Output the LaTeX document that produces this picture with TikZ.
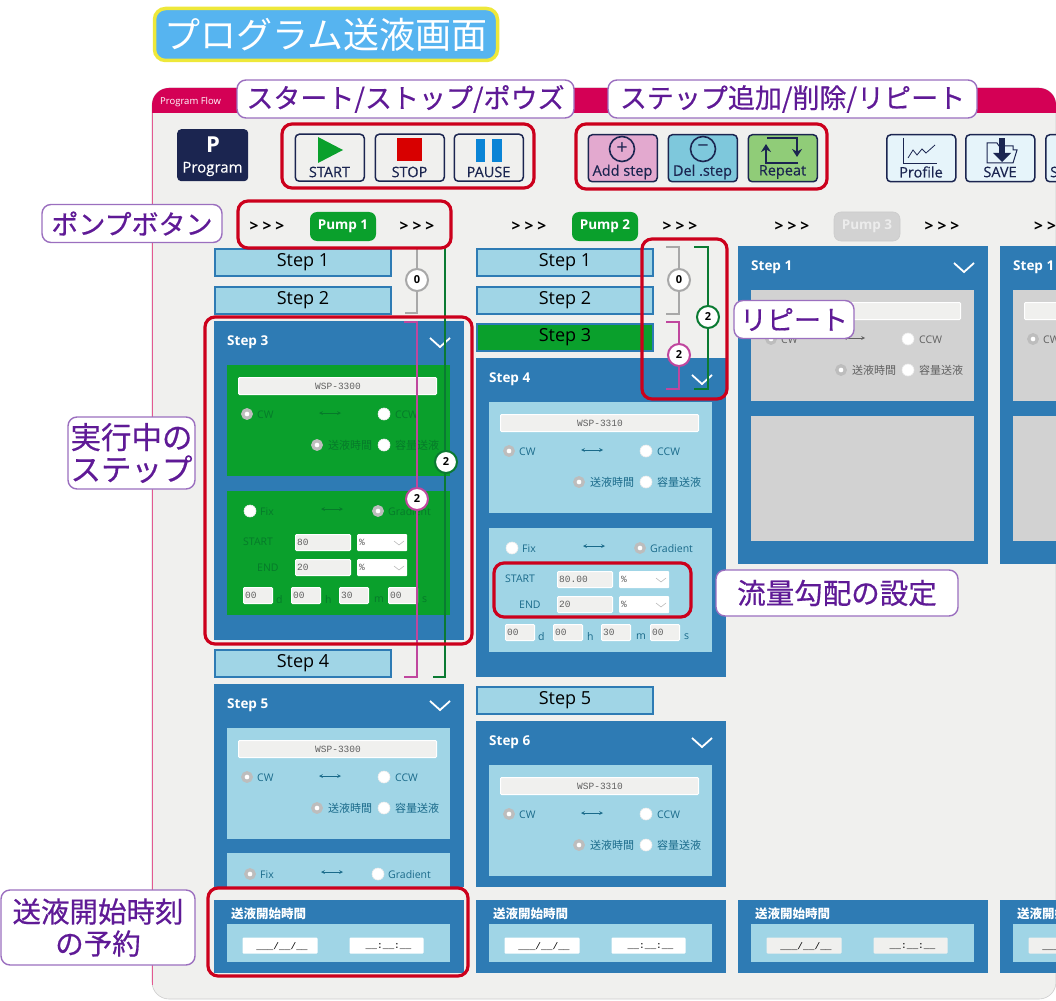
\documentclass[tikz,border=0pt]{standalone}
\usepackage{fontspec}
\usetikzlibrary{arrows.meta}
\setmainfont{Open Sans}
\newfontfamily\jpfont{Noto Sans CJK JP}
\newfontfamily\jpheavy[FakeBold=0.5]{Noto Sans CJK JP}
\newfontfamily\medfont[FakeBold=0.35]{Open Sans}
\newfontfamily\codefont{Liberation Mono}
\definecolor{crimson}{HTML}{D40055}
\definecolor{screen}{HTML}{F0F0EE}
\definecolor{navy}{HTML}{1B2550}
\definecolor{cardblue}{HTML}{2E7BB4}
\definecolor{lightblue}{HTML}{A0D5E6}
\definecolor{runninggreen}{HTML}{0AA02C}
\definecolor{idlegray}{HTML}{D2D2D2}
\definecolor{tealink}{HTML}{1A6A8A}
\definecolor{greenink}{HTML}{067A2A}
\definecolor{grayink}{HTML}{606060}
\definecolor{frame}{HTML}{CC001C}
\definecolor{calloutedge}{HTML}{9B6FBF}
\definecolor{calloutink}{HTML}{5F1A96}
\definecolor{radiogray}{HTML}{BDBDBD}
\definecolor{repeatgray}{HTML}{A8A8A8}
\definecolor{repeatpink}{HTML}{C0469E}
\definecolor{repeatgreen}{HTML}{0A7A32}
\definecolor{titlefill}{HTML}{56B4F0}
\definecolor{titleedge}{HTML}{EEE83A}
\definecolor{addpink}{HTML}{E3A9CF}
\definecolor{delblue}{HTML}{7EC8DC}
\definecolor{repgreen}{HTML}{90CC78}
\definecolor{plainbtn}{HTML}{E6F4FA}
\definecolor{stopred}{HTML}{D80000}
\definecolor{pauseblue}{HTML}{0A84D6}
\tikzset{
    callout/.style={draw=calloutedge,line width=1.4pt,fill=white,rounded corners=9pt,text=calloutink,inner sep=0pt,font=\jpheavy\fontsize{27}{32}\selectfont,align=center},
    redframe/.style={draw=frame,line width=3.2pt,rounded corners=10pt},
    toolbtn/.style={draw=navy,line width=1.5pt,rounded corners=4pt,anchor=north west,minimum width=69pt,minimum height=47pt,inner sep=0pt},
    toollabel/.style={text=navy,font=\medfont\fontsize{14.5}{16}\selectfont,inner sep=0pt},
    pumpbtn/.style={rounded corners=7pt,minimum width=66pt,minimum height=29pt,inner sep=0pt,text=white,font=\bfseries\fontsize{13.5}{16}\selectfont},
    chevrons/.style={inner sep=0pt,font=\bfseries\fontsize{15.5}{16}\selectfont},
    stepbar/.style={draw=cardblue,line width=2pt,anchor=north west,minimum width=176pt,minimum height=27pt,inner sep=0pt,font=\fontsize{18}{20}\selectfont},
    cardtitle/.style={anchor=west,inner sep=0pt,text=white,font=\bfseries\fontsize{13.5}{15}\selectfont},
    panellabel/.style={anchor=west,inner sep=0pt,yshift=-.8pt,text=paneltext,font=\fontsize{10.5}{12}\selectfont},
    paneljp/.style={panellabel,font=\jpfont\fontsize{11}{12}\selectfont},
    radioon/.style={circle,draw=radiogray,line width=3.2pt,fill=white,minimum size=8.5pt,inner sep=0pt},
    radiooff/.style={circle,draw=white!85!gray,line width=.6pt,fill=white,minimum size=12pt,inner sep=0pt},
    inputbox/.style={draw=white,line width=1pt,fill=screen,anchor=north west,minimum height=16pt,inner sep=0pt,rounded corners=1pt},
    selectbox/.style={fill=white,anchor=north west,minimum width=50pt,minimum height=17pt,inner sep=0pt,rounded corners=1pt},
    inputtext/.style={anchor=west,inner sep=0pt,xshift=2pt,text=grayink,font=\codefont\fontsize{9.5}{12}\selectfont},
    repeatbadge/.style={circle,line width=2pt,fill=white,minimum size=22pt,inner sep=0pt,text=black,font=\bfseries\fontsize{11}{12}\selectfont},
    repeatline/.style={line width=2.2pt},
    roundbadge/.style={circle,draw=navy,line width=1.6pt,minimum size=25pt,inner sep=0pt,text=navy,font=\fontsize{20}{20}\selectfont},
}
\newcommand{\toolbutton}[5]{
    \node[toolbtn,fill=#4] (#1) at (#2,#3) {};
    \node[toollabel] (#1t) at (#2+35,172) {#5};
}
\newcommand{\stepsbar}[5]{
    \node[stepbar,fill=#4] (#1) at (#2,#3) {#5};
}
\newcommand{\cardbase}[3]{
    \fill[cardblue] (0,0) rectangle (250,#2);
    \node[cardtitle] (#1title) at (13,21) {#3};
    \draw[white,line width=1.8pt] (216,17) -- (226,26) -- (236,17);
}
\newcommand{\cardupper}[4]{
    \fill[panelfill] (13,44) rectangle (236,155);
    \node[inputbox,minimum width=198pt,minimum height=17pt] (#1model) at (24,56) {};
    \node[inputtext,anchor=center,xshift=0pt] (#1modelt) at (122,65) {#2};
    \node[#3] (#1cw) at (33,93) {};
    \node[panellabel] (#1cwt) at (43,93) {CW};
    \draw[<->,>=stealth,paneltext,line width=.7pt] (105,92) -- (127,92);
    \node[#4] (#1ccw) at (170,93) {};
    \node[panellabel] (#1ccwt) at (181,93) {CCW};
    \node[radioon] (#1time) at (103,124) {};
    \node[paneljp] (#1timet) at (114,124) {送液時間};
    \node[radiooff] (#1vol) at (170,124) {};
    \node[paneljp] (#1volt) at (181,124) {容量送液};
}
\newcommand{\cardlower}[3]{
    \fill[panelfill] (13,170) rectangle (236,294);
    \node[radiooff] (#1fix) at (36,190) {};
    \node[panellabel] (#1fixt) at (46,190) {Fix};
    \draw[<->,>=stealth,paneltext,line width=.7pt] (107,188) -- (129,188);
    \node[radioon] (#1grad) at (164,190) {};
    \node[panellabel] (#1gradt) at (174,190) {Gradient};
    \node[panellabel] (#1start) at (29,220) {START};
    \node[panellabel] (#1end) at (43,246) {END};
    \inputfield{#1sv}{81}{213}{55}{#2}
    \inputfield{#1ev}{81}{238}{55}{#3}
    \selectfield{#1su}{143}{213}
    \selectfield{#1eu}{143}{238}
    \inputfield{#1dd}{29}{266}{29}{00}
    \inputfield{#1hh}{77}{266}{29}{00}
    \inputfield{#1mm}{125}{266}{29}{30}
    \inputfield{#1ss}{174}{266}{29}{00}
    \node[panellabel] (#1dt) at (62,278) {d};
    \node[panellabel] (#1ht) at (111,278) {h};
    \node[panellabel] (#1mt) at (160,278) {m};
    \node[panellabel] (#1st) at (208,278) {s};
}
\newcommand{\inputfield}[5]{
    \node[inputbox,minimum width=#4pt] (#1) at (#2,#3) {};
    \node[inputtext] (#1t) at (#1.west) {#5};
}
\newcommand{\selectfield}[3]{
    \node[selectbox] (#1) at (#2,#3) {};
    \node[inputtext] (#1t) at (#1.west) {\%};
    \draw[radiogray,line width=.6pt] (#2+37,#3+7) -- (#2+42,#3+11) -- (#2+47,#3+7);
}
\newcommand{\startcard}[3]{
    \begin{scope}[shift={(#2,900)}]
        \fill[cardblue] (0,0) rectangle (250,73);
        \node[cardtitle,font=\jpfont\bfseries\fontsize{12.5}{14}\selectfont] (#1title) at (17,14) {送液開始時間};
        \fill[lightblue] (13,24) rectangle (236,62);
        \node[inputbox,draw=none,fill=#3,minimum width=75pt,anchor=north west] (#1date) at (28,37) {};
        \node[inputtext,anchor=center,xshift=0pt,text=black,yshift=-1pt] (#1datet) at (#1date.center) {\_\_\_/\_\_/\_\_};
        \node[inputbox,draw=none,fill=#3,minimum width=74pt,anchor=north west] (#1clock) at (135,37) {};
        \node[inputtext,anchor=center,xshift=0pt,text=black,yshift=-1pt] (#1clockt) at (#1clock.center) {\_\_:\_\_:\_\_};
    \end{scope}
}
\begin{document}
\begin{tikzpicture}[x=1pt,y=-1pt]
    \useasboundingbox (0,0) rectangle (1056,1000);
    \clip (0,0) rectangle (1056,1000);

    \filldraw[fill=screen,draw=black!20,line width=.6pt,rounded corners=17pt] (152,88) rectangle (1056,999);
    \fill[crimson] (152,113) [rounded corners=17pt] -- (152,88) -- (1056,88) [sharp corners] -- (1056,113) -- cycle;
    \draw[crimson!65,line width=.9pt] (152,113) -- (152,985);
    \node[anchor=west,inner sep=0pt,text=white,font=\fontsize{9.5}{11}\selectfont] (flowtitle) at (160,102) {Program Flow};

    \node[fill=navy,rounded corners=4pt,anchor=north west,minimum width=71pt,minimum height=52pt,inner sep=0pt] (programbtn) at (177,129) {};
    \node[inner sep=0pt,text=white,font=\bfseries\fontsize{22}{24}\selectfont] (programp) at (213,145) {P};
    \node[inner sep=0pt,text=white,font=\medfont\fontsize{15}{16}\selectfont] (programt) at (212.5,169) {Program};

    \toolbutton{startbtn}{294.5}{133.5}{screen}{START}
    \fill[runninggreen] (318,137) -- (343,150) -- (318,163) -- cycle;
    \toolbutton{stopbtn}{374.5}{133.5}{screen}{STOP}
    \fill[stopred] (397,138) rectangle (422,161);
    \toolbutton{pausebtn}{453.5}{133.5}{screen}{PAUSE}
    \fill[pauseblue] (476,139) rectangle (485,162);
    \fill[pauseblue] (492,139) rectangle (502,162);

    \toolbutton{addbtn}{587.5}{134}{addpink}{Add step}
    \node[roundbadge] (addicon) at (622,149) {+};
    \toolbutton{delbtn}{667.5}{134}{delblue}{Del .step}
    \node[roundbadge] (delicon) at (703,149) {−};
    \toolbutton{repeatbtn}{747.5}{134}{repgreen}{Repeat}
    \draw[navy,line width=2.2pt,-{Stealth[length=8pt,width=10pt]}] (798,163) -- (766,163) -- (766,144);
    \draw[navy,line width=2.2pt,-{Stealth[length=8pt,width=10pt]}] (767,138) -- (797,138) -- (797,157);
    \toolbutton{profilebtn}{886}{134}{plainbtn}{Profile}
    \draw[navy,line width=.9pt] (903,138) -- (903,163) -- (937,163);
    \draw[navy,line width=.8pt] (908,158) -- (913,150) -- (917,155) -- (922,149) -- (926,153) -- (935,145);
    \toolbutton{savebtn}{965}{134}{plainbtn}{SAVE}
    \draw[navy,line width=1pt] (987,163) -- (987,143) -- (997,143) -- (999,146) -- (1013,146) -- (1013,150) -- (1017,150) -- (1013,163) -- cycle;
    \fill[navy] (999,138) rectangle (1005,153);
    \fill[navy] (993,153) -- (1011,153) -- (1002,162) -- cycle;
    \node[toolbtn,fill=plainbtn] (settingbtn) at (1045,134) {};
    \node[toollabel,anchor=west] (settingt) at (1050,172) {S};

    \node[chevrons] (ch1) at (267,227) {> > >};
    \node[chevrons] (ch2) at (417,227) {> > >};
    \node[pumpbtn,fill=runninggreen] (pump1) at (343,226.5) {Pump 1};
    \node[chevrons] (ch3) at (529,227) {> > >};
    \node[pumpbtn,fill=runninggreen] (pump2) at (605,226.5) {Pump 2};
    \node[chevrons] (ch4) at (680,227) {> > >};
    \node[chevrons] (ch5) at (792,227) {> > >};
    \node[pumpbtn,fill=idlegray,text=white!85!gray,draw=black!20,line width=.6pt] (pump3) at (867,226.5) {Pump 3};
    \node[chevrons] (ch6) at (942,227) {> > >};
    \node[chevrons,anchor=west] (ch7) at (1034,227) {> > >};

    \stepsbar{c1s1}{214}{248}{lightblue}{Step 1}
    \stepsbar{c1s2}{214}{286}{lightblue}{Step 2}
    \stepsbar{c1s4}{214}{648.5}{lightblue}{Step 4}
    \stepsbar{c2s1}{476}{248}{lightblue}{Step 1}
    \stepsbar{c2s2}{476}{286}{lightblue}{Step 2}
    \stepsbar{c2s3}{476}{323}{runninggreen}{Step 3}
    \stepsbar{c2s5}{476}{685.5}{lightblue}{Step 5}

    \begin{scope}[shift={(214,321)}]
        \colorlet{panelfill}{runninggreen}\colorlet{paneltext}{greenink}
        \cardbase{c1s3}{319}{Step 3}
        \cardupper{c1s3}{WSP-3300}{radioon}{radiooff}
        \cardlower{c1s3}{80}{20}
    \end{scope}
    \begin{scope}[shift={(476,358)}]
        \colorlet{panelfill}{lightblue}\colorlet{paneltext}{tealink}
        \cardbase{c2s4}{319}{Step 4}
        \cardupper{c2s4}{WSP-3310}{radioon}{radiooff}
        \cardlower{c2s4}{80.00}{20}
    \end{scope}
    \begin{scope}[shift={(214,684)}]
        \colorlet{panelfill}{lightblue}\colorlet{paneltext}{tealink}
        \cardbase{c1s5}{203}{Step 5}
        \cardupper{c1s5}{WSP-3300}{radioon}{radiooff}
        \fill[panelfill] (13,169) rectangle (236,203);
        \node[radioon] (c1s5fix) at (36,190) {};
        \node[panellabel] (c1s5fixt) at (46,190) {Fix};
        \draw[<->,>=stealth,paneltext,line width=.7pt] (107,188) -- (129,188);
        \node[radiooff] (c1s5grad) at (164,190) {};
        \node[panellabel] (c1s5gradt) at (174,190) {Gradient};
    \end{scope}
    \begin{scope}[shift={(476,721)}]
        \colorlet{panelfill}{lightblue}\colorlet{paneltext}{tealink}
        \cardbase{c2s6}{166}{Step 6}
        \cardupper{c2s6}{WSP-3310}{radioon}{radiooff}
    \end{scope}
    \begin{scope}[shift={(738,246)}]
        \colorlet{panelfill}{idlegray}\colorlet{paneltext}{grayink}
        \cardbase{c3s1}{318}{Step 1}
        \cardupper{c3s1}{}{radioon}{radiooff}
        \fill[panelfill] (13,170) rectangle (236,295);
    \end{scope}
    \begin{scope}[shift={(1000,246)}]
        \colorlet{panelfill}{idlegray}\colorlet{paneltext}{grayink}
        \cardbase{c4s1}{318}{Step 1}
        \cardupper{c4s1}{}{radioon}{radiooff}
        \fill[panelfill] (13,170) rectangle (236,295);
    \end{scope}

    \startcard{t1}{214}{white}
    \startcard{t2}{476}{white}
    \startcard{t3}{738}{screen}
    \startcard{t4}{1000}{screen}

    \coordinate (r1a) at (405,248); \coordinate (r1b) at (417,248);
    \coordinate (r1c) at (417,313); \coordinate (r1d) at (405,313);
    \draw[repeatline,repeatgray] (r1a) -- (r1b) -- (r1c) -- (r1d);
    \node[repeatbadge,draw=repeatgray] (r1) at (417,280) {0};
    \coordinate (r2a) at (404,322); \coordinate (r2b) at (417,322);
    \coordinate (r2c) at (417,677); \coordinate (r2d) at (404,677);
    \draw[repeatline,repeatpink] (r2a) -- (r2b) -- (r2c) -- (r2d);
    \node[repeatbadge,draw=repeatpink] (r2) at (417,499) {2};
    \coordinate (r3a) at (432,248); \coordinate (r3b) at (445,248);
    \coordinate (r3c) at (445,677); \coordinate (r3d) at (433,677);
    \draw[repeatline,repeatgreen] (r3a) -- (r3b) -- (r3c) -- (r3d);
    \node[repeatbadge,draw=repeatgreen] (r3) at (446,462) {2};
    \coordinate (r4a) at (666,247); \coordinate (r4b) at (679,247);
    \coordinate (r4c) at (679,314); \coordinate (r4d) at (666,314);
    \draw[repeatline,repeatgray] (r4a) -- (r4b) -- (r4c) -- (r4d);
    \node[repeatbadge,draw=repeatgray] (r4) at (679,280) {0};
    \coordinate (r5a) at (666,322); \coordinate (r5b) at (679,322);
    \coordinate (r5c) at (679,389); \coordinate (r5d) at (666,389);
    \draw[repeatline,repeatpink] (r5a) -- (r5b) -- (r5c) -- (r5d);
    \node[repeatbadge,draw=repeatpink] (r5) at (679,355) {2};
    \coordinate (r6a) at (694,247); \coordinate (r6b) at (708,247);
    \coordinate (r6c) at (708,389); \coordinate (r6d) at (694,389);
    \draw[repeatline,repeatgreen] (r6a) -- (r6b) -- (r6c) -- (r6d);
    \node[repeatbadge,draw=repeatgreen] (r6) at (708,317) {2};

    \draw[redframe] (282,124) rectangle (534,188);
    \draw[redframe] (576,124) rectangle (827,189);
    \draw[redframe] (238,201) rectangle (451,248);
    \draw[redframe] (642,239) rectangle (727,399);
    \draw[redframe] (205,317) rectangle (472,644);
    \draw[redframe] (494,563) rectangle (691,617);
    \draw[redframe] (208,888) rectangle (468,976);

    \node[draw=titleedge,line width=3.5pt,fill=titlefill,rounded corners=11pt,minimum width=343pt,minimum height=52pt,inner sep=0pt,text=white,font=\jpfont\fontsize{36}{38}\selectfont] (title) at (326,34.5) {プログラム送液画面};
    \node[callout,minimum width=337pt,minimum height=38pt] (co1) at (405.5,99) {スタート/ストップ/ポウズ};
    \node[callout,minimum width=369pt,minimum height=38pt] (co2) at (792.5,99) {ステップ追加/削除/リピート};
    \node[callout,minimum width=180pt,minimum height=38pt] (co3) at (132,223.5) {ポンプボタン};
    \node[callout,minimum width=120pt,minimum height=38pt] (co4) at (794,319.5) {リピート};
    \node[callout,minimum width=127pt,minimum height=72pt,font=\jpheavy\fontsize{30.5}{32}\selectfont] (co5) at (131.5,453) {実行中の\\ステップ};
    \node[callout,minimum width=242pt,minimum height=46pt,font=\jpheavy\fontsize{28.5}{32}\selectfont] (co6) at (837,593) {流量勾配の設定};
    \node[callout,minimum width=194pt,minimum height=75pt,font=\jpheavy\fontsize{28.5}{32}\selectfont] (co7) at (98,927.5) {送液開始時刻\\の予約};
\end{tikzpicture}
\end{document}
